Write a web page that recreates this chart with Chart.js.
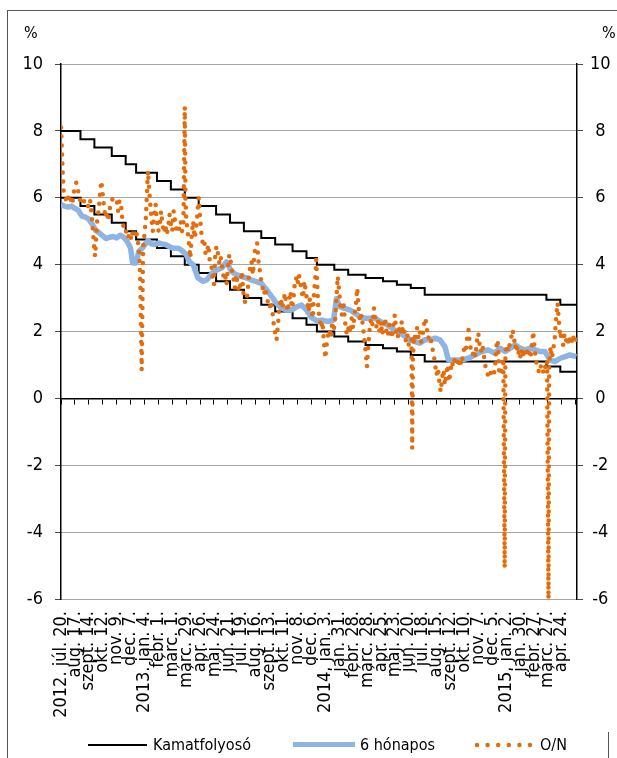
<!DOCTYPE html>
<html lang="hu">
<head>
<meta charset="utf-8">
<title>Kamatfolyosó, 6 hónapos és O/N kamat</title>
<script src="https://cdn.jsdelivr.net/npm/chart.js@4.4.1/dist/chart.umd.min.js"></script>
<style>
    body { margin: 0; background: #fff; font-family: "DejaVu Sans Condensed", "DejaVu Sans", sans-serif; color: #000; }
    .page { position: relative; width: 617px; height: 758px; overflow: hidden; }
    .frame-top { position: absolute; left: 7px; top: 10px; width: 610px; height: 1px; background: #555; }
    .frame-left { position: absolute; left: 7px; top: 10px; width: 1px; height: 748px; background: #555; }
    .frame-right { position: absolute; left: 608px; top: 732px; width: 1px; height: 26px; background: #555; }
    #rateChart { position: absolute; left: 0; top: 0; }
    .pct { position: absolute; top: 24px; font-size: 16px; line-height: 18px; }
    .legend-item { position: absolute; top: 736px; font-size: 16px; line-height: 18px; white-space: nowrap; }
    .legend-line { position: absolute; }
</style>
</head>
<body>
<div class="page">
    <div class="frame-top"></div>
    <div class="frame-left"></div>
    <div class="frame-right"></div>
    <canvas id="rateChart" width="617" height="758"></canvas>
    <div class="pct" style="left:24px">%</div>
    <div class="pct" style="left:602px">%</div>

    <div class="legend-line" style="left:88px; top:744px; width:59px; height:2px; background:#000;"></div>
    <div class="legend-item" style="left:153px">Kamatfolyosó</div>
    <div class="legend-line" style="left:293px; top:742px; width:62px; height:5px; background:#8eb4e3;"></div>
    <div class="legend-item" style="left:360px">6 hónapos</div>
    <svg class="legend-line" style="left:474px; top:741px;" width="62" height="8">
        <line x1="3" y1="4" x2="58" y2="4" stroke="#e46c0a" stroke-width="4.5" stroke-linecap="round" stroke-dasharray="0 10.6"/>
    </svg>
    <div class="legend-item" style="left:540px">O/N</div>
</div>

<script>
// x values are business days counted from 2012. júl. 20.
const tickDays = [0, 20, 40, 60, 80, 100, 120, 140, 160, 180, 200, 220, 240, 260, 280, 300, 320, 340, 360,
    380, 400, 420, 440, 460, 480, 500, 520, 540, 560, 580, 600, 620, 640, 660, 680, 700, 720];
const zeroTickDays = tickDays.concat([740]);
const tickLabels = ['2012. júl. 20.', 'aug. 17.', 'szept. 14.', 'okt. 12.', 'nov. 9.', 'dec. 7.',
    '2013. jan. 4.', 'febr. 1.', 'márc. 1.', 'márc. 29.', 'ápr. 26.', 'máj. 24.', 'jún. 21.', 'júl. 19.',
    'aug. 16.', 'szept. 13.', 'okt. 11.', 'nov. 8.', 'dec. 6.', '2014. jan. 3.', 'jan. 31.', 'febr. 28.',
    'márc. 28.', 'ápr. 25.', 'máj. 23.', 'jún. 20.', 'júl. 18.', 'aug. 15.', 'szept. 12.', 'okt. 10.',
    'nov. 7.', 'dec. 5.', '2015. jan. 2.', 'jan. 30.', 'febr. 27.', 'márc. 27.', 'ápr. 24.'];

// kamatfolyosó: days when the corridor moved
const corridorDays = [0, 28, 48, 73, 93, 108, 138, 158, 178, 198, 223, 243, 263, 288, 308, 333, 353, 368,
    393, 413, 438, 463, 483, 503, 523, 698, 718, 741];
const corridorUpper = [8, 7.75, 7.5, 7.25, 7, 6.75, 6.5, 6.25, 6, 5.75, 5.5, 5.25, 5, 4.8, 4.6, 4.4, 4.2, 4,
    3.85, 3.7, 3.6, 3.5, 3.4, 3.3, 3.1, 2.95, 2.8, 2.8];
const corridorLower = [6, 5.75, 5.5, 5.25, 5, 4.75, 4.5, 4.25, 4, 3.75, 3.5, 3.25, 3, 2.8, 2.6, 2.4, 2.2, 2,
    1.85, 1.7, 1.6, 1.5, 1.4, 1.3, 1.1, 0.95, 0.8, 0.8];

// 6 hónapos
const sixMonthDays = [0, 5, 10, 15, 20, 25, 30, 35, 40, 45, 50, 55, 60, 65, 70, 75, 80, 85, 90, 95,
    100, 103, 108, 112, 118, 125, 130, 135, 140, 145, 150, 155, 160, 165, 170, 175, 180, 185, 190, 197,
    204, 210, 217, 224, 231, 238, 245, 252, 260, 267, 274, 281, 288, 296, 303, 310, 317, 325, 332, 339,
    346, 353, 360, 368, 375, 384, 392, 396, 401, 408, 416, 423, 430, 437, 444, 451, 459, 466, 473, 480,
    488, 495, 502, 509, 516, 523, 531, 538, 545, 552, 557, 567, 576, 586, 595, 605, 614, 624, 631, 639,
    646, 653, 660, 667, 675, 682, 689, 696, 703, 710, 718, 725, 732, 741];
const sixMonth = [5.8, 5.75, 5.72, 5.75, 5.68, 5.62, 5.45, 5.42, 5.36, 5.2, 5.02, 4.95, 4.86, 4.78, 4.82, 4.84, 4.8, 4.88, 4.82, 4.7,
    4.5, 4.05, 4.05, 4.4, 4.52, 4.72, 4.62, 4.6, 4.65, 4.62, 4.6, 4.55, 4.5, 4.49, 4.48, 4.4, 4.3, 4.08, 4.0, 3.6,
    3.5, 3.55, 3.74, 3.84, 3.9, 4.08, 3.8, 3.7, 3.64, 3.6, 3.54, 3.49, 3.44, 3.24, 3.04, 2.84, 2.7, 2.64, 2.64, 2.74,
    2.79, 2.64, 2.42, 2.32, 2.34, 2.3, 2.34, 2.98, 2.74, 2.69, 2.64, 2.54, 2.44, 2.4, 2.4, 2.4, 2.3, 2.24, 2.14, 2.04,
    1.95, 1.85, 1.75, 1.7, 1.65, 1.75, 1.75, 1.8, 1.75, 1.55, 1.15, 1.15, 1.15, 1.2, 1.3, 1.4, 1.45, 1.35, 1.5, 1.4,
    1.5, 1.6, 1.5, 1.45, 1.5, 1.45, 1.4, 1.4, 1.15, 1.1, 1.2, 1.25, 1.3, 1.25];

// O/N
const onDays = [0, 1, 2, 3, 4, 6, 8, 10, 12, 14, 16, 18, 20, 22, 24, 26, 28, 30, 32, 34, 36, 38, 40, 42, 44, 46, 48, 49,
    50, 52, 54, 56, 58, 60, 62, 64, 66, 68, 70, 72, 74, 76, 78, 80, 82, 84, 86, 88, 90, 92, 94, 96, 98,
    100, 102, 104, 106, 108, 110, 112, 114, 116, 117, 118, 120, 122, 124, 125, 126, 128, 130, 132, 134, 136, 138,
    140, 142, 144, 146, 148, 150, 152, 154, 156, 158, 160, 162, 164, 166, 168, 170, 172, 174, 176, 178, 179,
    180, 182, 184, 186, 188, 190, 192, 194, 196, 198, 200, 202, 204, 206, 208, 210, 212, 214, 216, 218,
    220, 222, 224, 226, 228, 230, 232, 234, 236, 238, 240, 242, 244, 246, 248, 250, 252, 254, 256, 258,
    260, 262, 264, 266, 268, 270, 272, 274, 276, 278, 280, 282, 284, 286, 288, 290, 292, 294, 296, 298,
    300, 302, 304, 306, 308, 310, 312, 314, 316, 318, 320, 322, 324, 326, 328, 330, 332, 334, 336, 338,
    340, 342, 344, 346, 348, 350, 352, 354, 356, 358, 360, 362, 364, 366, 367, 368, 370, 372, 374, 376, 378,
    380, 382, 384, 386, 388, 390, 392, 394, 396, 398, 400, 402, 404, 406, 408, 410, 412, 414, 416, 418,
    420, 422, 424, 426, 428, 430, 432, 434, 436, 438, 440, 442, 444, 446, 448, 450, 452, 454, 456, 458,
    460, 462, 464, 466, 468, 470, 472, 474, 476, 478, 480, 482, 484, 486, 488, 490, 492, 494, 496, 498,
    500, 502, 504, 505, 506, 508, 510, 512, 514, 516, 518, 520, 522, 524, 526, 528, 530, 532, 534, 536, 538,
    540, 542, 544, 546, 548, 550, 552, 554, 556, 558, 560, 562, 564, 566, 568, 570, 572, 574, 576, 578,
    580, 582, 584, 586, 588, 590, 592, 594, 596, 598, 600, 602, 604, 606, 608, 610, 612, 614, 616, 618,
    620, 622, 624, 626, 628, 630, 632, 634, 636, 638, 639, 641, 643, 645, 647, 649, 651, 653, 655, 657, 659,
    661, 663, 665, 667, 669, 671, 673, 675, 677, 679, 681, 683, 685, 687, 689, 691, 693, 695, 697, 699,
    701, 702, 704, 706, 708, 710, 712, 714, 716, 718, 720, 722, 724, 726, 728, 730, 732, 734, 736, 738, 740, 741];
const onRates = [8.1, 7.6, 7.0, 6.5, 6.15, 6.0, 5.9, 6.05, 5.85, 5.95, 5.8, 6.1, 6.35, 6.45, 6.3, 6.0, 5.9, 5.85, 5.95, 5.85, 5.9, 5.8, 5.7, 5.9, 5.5, 5.0, 4.4, 4.25,
    4.6, 5.3, 5.6, 6.1, 6.5, 6.1, 5.7, 5.4, 5.6, 5.3, 5.65, 5.9, 5.95, 5.9, 5.9, 5.95, 5.6, 5.9, 5.9, 5.4, 5.1, 4.95, 5.0, 4.8, 4.9,
    4.75, 5.0, 4.8, 4.9, 5.05, 4.7, 4.55, 3.5, 0.85, 2.5, 4.5, 4.9, 5.4, 6.3, 6.8, 6.5, 5.9, 5.4, 5.0, 5.5, 5.8, 5.3,
    5.0, 5.2, 5.6, 5.2, 4.95, 5.2, 4.9, 5.1, 5.5, 5.2, 5.0, 5.6, 5.3, 5.05, 4.95, 5.1, 5.3, 5.0, 5.2, 8.72, 6.0,
    5.4, 5.0, 4.6, 4.2, 4.9, 5.3, 4.8, 5.0, 5.5, 6.0, 5.4, 4.9, 4.6, 4.7, 4.3, 4.4, 4.6, 4.1, 4.05, 3.6,
    3.4, 4.4, 4.55, 4.3, 4.0, 4.2, 3.9, 3.6, 3.7, 3.4, 3.9, 4.3, 4.1, 3.8, 3.6, 3.3, 3.7, 3.4, 3.2, 3.4,
    3.8, 3.2, 2.9, 2.85, 3.1, 3.6, 3.9, 4.1, 3.7, 4.3, 4.55, 4.65, 4.1, 3.8, 3.5, 3.3, 3.1, 3.3, 3.0, 2.85,
    2.7, 2.9, 2.6, 2.2, 1.95, 1.75, 2.2, 2.7, 3.0, 2.7, 2.9, 3.15, 2.8, 2.6, 2.9, 3.2, 2.7, 2.9, 3.4, 3.6,
    3.4, 3.7, 3.5, 3.2, 3.0, 3.5, 3.2, 2.9, 2.6, 3.0, 2.7, 2.4, 3.2, 3.7, 4.15, 3.6, 2.7, 2.35, 2.1, 2.3, 1.7,
    1.2, 1.6, 1.9, 2.05, 1.8, 2.3, 2.0, 2.3, 3.0, 3.65, 3.2, 2.7, 2.5, 2.9, 2.4, 2.0, 1.9, 2.2, 1.95, 2.4,
    2.1, 2.5, 2.8, 3.3, 2.7, 2.3, 2.5, 2.2, 1.8, 1.4, 0.95, 1.6, 2.1, 2.4, 2.2, 2.7, 2.4, 2.1, 2.3, 2.0,
    2.3, 1.9, 2.2, 2.4, 2.0, 1.85, 2.2, 2.0, 1.8, 2.2, 2.5, 2.0, 1.8, 2.1, 1.9, 2.3, 1.9, 2.0, 1.7, 1.9,
    1.6, 1.75, 1.8, -1.5, 1.2, 1.9, 1.7, 2.1, 1.8, 2.0, 1.7, 1.9, 2.2, 2.4, 2.1, 1.8, 1.9, 1.75, 1.5, 1.3, 1.0,
    0.7, 0.9, 0.5, 0.2, 0.6, 0.85, 0.4, 0.7, 1.0, 0.5, 0.8, 1.1, 0.95, 1.15, 1.0, 1.1, 0.95, 1.2, 1.0, 1.35,
    1.5, 1.4, 1.8, 2.05, 1.6, 1.4, 1.3, 1.45, 1.25, 1.7, 1.95, 1.6, 1.4, 1.6, 1.3, 1.0, 0.8, 0.7, 0.85, 0.75,
    0.8, 0.7, 0.9, 1.55, 1.75, 0.8, 0.7, 0.9, 1.2, -5.07, 1.4, 1.6, 1.4, 1.6, 1.75, 2.05, 1.9, 1.5, 1.65, 1.3, 1.45,
    1.2, 1.5, 1.3, 1.45, 1.25, 1.5, 1.4, 1.2, 1.6, 2.0, 1.5, 1.1, 1.0, 0.8, 1.0, 0.9, 0.75, 1.0, 0.9, 1.1,
    -6.0, 1.0, 1.55, 1.2, 1.5, 1.8, 2.4, 2.85, 2.3, 1.8, 2.0, 1.6, 1.9, 1.7, 1.85, 1.6, 1.8, 1.65, 1.9, 1.7, 1.8, 1.75];

const fontFamily = '"DejaVu Sans Condensed", "DejaVu Sans", sans-serif';

function toPoints(days, values) {
    return days.map((d, i) => ({ x: d, y: values[i] }));
}

const ctx = document.getElementById('rateChart').getContext('2d');
new Chart(ctx, {
    type: 'line',
    data: {
        datasets: [
            {
                label: 'O/N',
                data: toPoints(onDays, onRates),
                borderColor: '#e46c0a',
                borderWidth: 4.5,
                borderDash: [0, 9],
                borderCapStyle: 'round',
                borderJoinStyle: 'round',
                pointRadius: 0,
                order: 0
            },
            {
                label: '6 hónapos',
                data: toPoints(sixMonthDays, sixMonth),
                borderColor: '#8eb4e3',
                borderWidth: 5.5,
                borderJoinStyle: 'round',
                pointRadius: 0,
                order: 1
            },
            {
                label: 'Kamatfolyosó',
                data: toPoints(corridorDays, corridorUpper),
                borderColor: '#000',
                borderWidth: 2,
                stepped: true,
                pointRadius: 0,
                order: 2
            },
            {
                label: 'Kamatfolyosó (alsó)',
                data: toPoints(corridorDays, corridorLower),
                borderColor: '#000',
                borderWidth: 2,
                stepped: true,
                pointRadius: 0,
                order: 2
            }
        ]
    },
    options: {
        responsive: false,
        animation: false,
        layout: { padding: { top: 64, left: 0, right: 0, bottom: 0 } },
        plugins: {
            legend: { display: false },
            tooltip: { enabled: false }
        },
        scales: {
            x: {
                type: 'linear',
                min: 0,
                max: 742,
                afterBuildTicks: axis => { axis.ticks = tickDays.map(v => ({ value: v })); },
                afterFit: axis => { axis.height = 159; },
                ticks: {
                    autoSkip: false,
                    minRotation: 90,
                    maxRotation: 90,
                    padding: 12,
                    color: '#000',
                    font: { family: fontFamily, size: 18 },
                    callback: (value, index) => tickLabels[index]
                },
                grid: { display: false, drawTicks: false },
                border: { display: false }
            },
            xZero: {
                type: 'linear',
                min: 0,
                max: 742,
                position: { y: 0 },
                afterBuildTicks: axis => { axis.ticks = zeroTickDays.map(v => ({ value: v })); },
                ticks: { display: false },
                grid: { drawOnChartArea: false, drawTicks: true, tickLength: 5, color: '#000', lineWidth: 1 },
                border: { display: true, color: '#000', width: 1.5 }
            },
            y: {
                position: 'left',
                min: -6,
                max: 10,
                afterFit: axis => { axis.width = 61; },
                ticks: { stepSize: 2, padding: 12, color: '#000', font: { family: fontFamily, size: 18 } },
                grid: { color: '#4a4a4a', lineWidth: 1, tickLength: 6 },
                border: { display: true, color: '#000', width: 1.5, dash: [1, 1] }
            },
            yRight: {
                position: 'right',
                min: -6,
                max: 10,
                afterFit: axis => { axis.width = 40; },
                ticks: { stepSize: 2, padding: 7, crossAlign: 'center', color: '#000', font: { family: fontFamily, size: 18 } },
                grid: { drawOnChartArea: false, color: '#4a4a4a', tickLength: 6 },
                border: { display: true, color: '#000', width: 1.5 }
            }
        }
    }
});
</script>
</body>
</html>
